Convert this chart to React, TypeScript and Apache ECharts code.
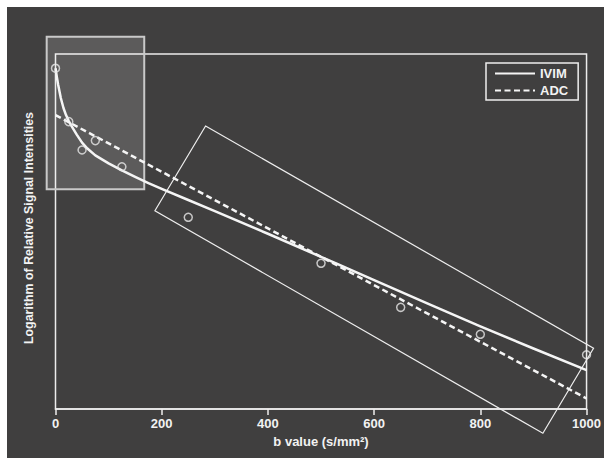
import React, { useEffect, useRef } from "react";
import * as echarts from "echarts";

// Measured signal (log of relative signal intensity) at each b value
const bValues = [0, 25, 50, 75, 125, 250, 500, 650, 800, 1000];
const measuredLogSignal = [0, -0.188, -0.288, -0.255, -0.347, -0.525, -0.687, -0.842, -0.937, -1.009];

// IVIM (bi-exponential) fitted curve
const ivimB = [0, 2.5, 5, 10, 15, 20, 25, 30, 40, 50, 60, 75, 100, 125, 150, 175, 200, 250, 300, 400, 500, 600, 700, 800, 900, 1000];
const ivimFit = [0, -0.031, -0.058, -0.105, -0.14, -0.166, -0.186, -0.203, -0.234, -0.262, -0.283, -0.307, -0.335, -0.36, -0.383, -0.405, -0.425, -0.464, -0.503, -0.583, -0.664, -0.746, -0.828, -0.909, -0.987, -1.063];

// ADC (mono-exponential) fitted line
const adcB = [0, 1000];
const adcFit = [-0.165, -1.163];

// x axis ticks
const xTickValues = [0, 200, 400, 600, 800, 1000];

// Annotation regions (data space)
const perfusionBoxB = [-16.6, 167.1];
const perfusionBoxLogS = [0.111, -0.426];
const diffusionBoxB = [282.6, 1013.2, 917.8, 187.2];
const diffusionBoxLogS = [-0.2035, -0.986, -1.2856, -0.5018];

const FONT = "'Liberation Sans', Arial, Helvetica, sans-serif";
const FG = "#f2f2f2";

export default function App() {
  const ref = useRef<HTMLDivElement>(null);
  useEffect(() => {
    if (!ref.current) return;
    const chart = echarts.init(ref.current, undefined, { renderer: "svg" });
    chart.setOption({
      animation: false,
      backgroundColor: "#403f3f",
      grid: {
        left: 48.5,
        right: 17,
        top: 47,
        bottom: 49,
        show: true,
        borderColor: "#ececec",
        borderWidth: 1.5,
        backgroundColor: "transparent",
      },
      legend: {
        data: ["IVIM", "ADC"],
        orient: "vertical",
        left: 479,
        top: 56,
        itemWidth: 40,
        itemHeight: 12,
        itemGap: 4,
        padding: [4, 10, 3, 8],
        borderColor: "#eeeeee",
        borderWidth: 1.5,
        selectedMode: false,
        itemStyle: { opacity: 0 },
        textStyle: { color: FG, fontWeight: "bold", fontSize: 13, fontFamily: FONT },
      },
      xAxis: {
        type: "value",
        min: xTickValues[0],
        max: xTickValues[xTickValues.length - 1],
        interval: xTickValues[1] - xTickValues[0],
        name: "b value (s/mm²)",
        nameLocation: "middle",
        nameGap: 24,
        nameTextStyle: { color: FG, fontWeight: "bold", fontSize: 13, fontFamily: FONT },
        axisLine: { show: true, onZero: false, lineStyle: { color: "#eeeeee", width: 1.5 } },
        axisTick: { show: true, length: 6, lineStyle: { color: "#eeeeee", width: 1.5 } },
        axisLabel: {
          color: FG,
          fontWeight: "bold",
          fontSize: 13,
          margin: 8,
          fontFamily: FONT,
          formatter: (v: number) => String(v),
        },
        splitLine: { show: false },
      },
      yAxis: {
        type: "value",
        min: -1.2,
        max: 0.05,
        name: "Logarithm of Relative Signal Intensities",
        nameLocation: "middle",
        nameGap: 21,
        nameTextStyle: {
          color: FG,
          fontWeight: "bold",
          fontSize: 12.4,
          fontFamily: FONT,
          padding: [0, 0, 0, 7],
        },
        axisLine: { show: false },
        axisTick: { show: false },
        axisLabel: { show: false },
        splitLine: { show: false },
      },
      series: [
        {
          name: "perfusion region",
          type: "custom",
          coordinateSystem: "cartesian2d",
          clip: false,
          silent: true,
          z: 1,
          data: [[0, 0]],
          renderItem: (_p: any, api: any) => {
            const tl = api.coord([perfusionBoxB[0], perfusionBoxLogS[0]]);
            const br = api.coord([perfusionBoxB[1], perfusionBoxLogS[1]]);
            return {
              type: "rect",
              shape: { x: tl[0], y: tl[1], width: br[0] - tl[0], height: br[1] - tl[1] },
              style: { fill: "rgba(255,255,255,0.15)", stroke: "#c9c9c9", lineWidth: 2 },
            };
          },
        },
        {
          name: "diffusion region",
          type: "custom",
          coordinateSystem: "cartesian2d",
          clip: false,
          silent: true,
          z: 1,
          data: [[0, 0]],
          renderItem: (_p: any, api: any) => {
            const points = diffusionBoxB.map((b, i) => api.coord([b, diffusionBoxLogS[i]]));
            return {
              type: "polygon",
              shape: { points },
              style: { fill: "none", stroke: "#eeeeee", lineWidth: 1.2 },
            };
          },
        },
        {
          name: "IVIM",
          type: "line",
          data: ivimB.map((b, i) => [b, ivimFit[i]]),
          symbol: "none",
          smooth: false,
          z: 3,
          lineStyle: { color: "#f5f5f5", width: 2.5, join: "round" },
          itemStyle: { color: "#f5f5f5" },
        },
        {
          name: "ADC",
          type: "line",
          data: adcB.map((b, i) => [b, adcFit[i]]),
          symbol: "none",
          z: 3,
          lineStyle: { color: "#f5f5f5", width: 2.5, type: [6, 3.5] },
          itemStyle: { color: "#f5f5f5" },
        },
        {
          name: "Measured",
          type: "scatter",
          data: bValues.map((b, i) => [b, measuredLogSignal[i]]),
          symbol: "circle",
          symbolSize: 8,
          clip: false,
          z: 4,
          itemStyle: { color: "rgba(0,0,0,0)", borderColor: "#e8e8e8", borderWidth: 1.5 },
        },
      ],
    });
    return () => chart.dispose();
  }, []);
  return (
    <div
      ref={ref}
      style={{ position: "fixed", left: 7, top: 7, width: 597, height: 451 }}
    />
  );
}
